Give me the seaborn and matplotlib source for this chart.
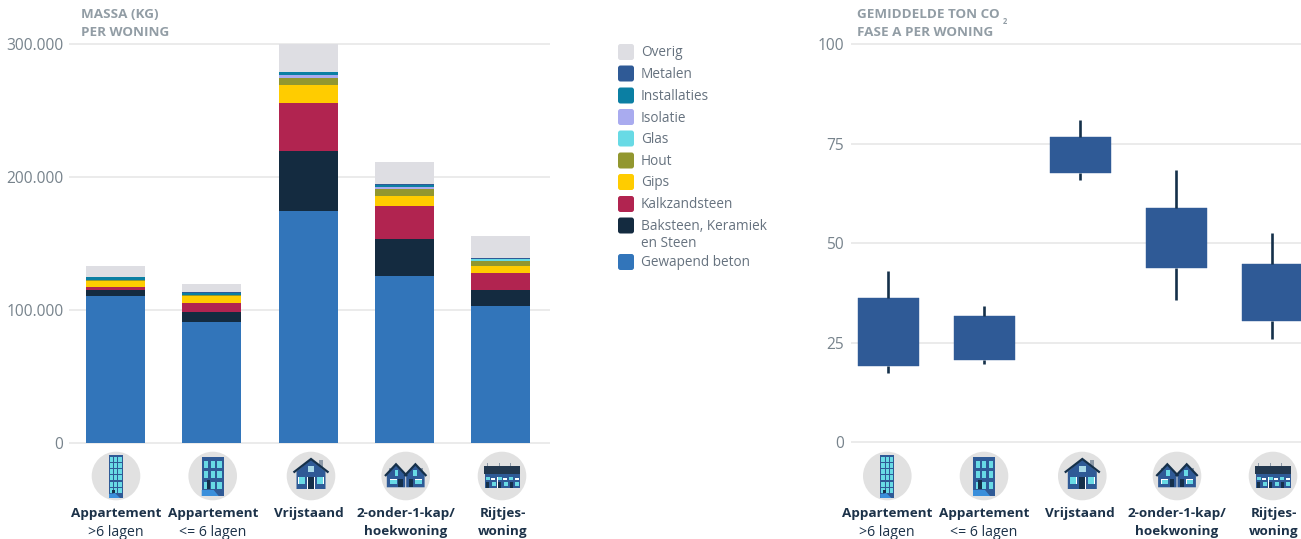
import matplotlib
matplotlib.use("Agg")
import matplotlib.pyplot as plt
import pandas as pd
import seaborn as sns
from matplotlib.patches import Circle, FancyBboxPatch, Polygon, Rectangle

# Waarden
woningen = ["Appartement >6 lagen", "Appartement <= 6 lagen", "Vrijstaand",
            "2-onder-1-kap/hoekwoning", "Rijtjeswoning"]
label_vet = [["Appartement"], ["Appartement"], ["Vrijstaand"],
             ["2-onder-1-kap/", "hoekwoning"], ["Rijtjes-", "woning"]]
label_normaal = [">6 lagen", "<= 6 lagen", "", "", ""]

gewapend_beton = [110300, 90700, 174300, 125400, 102800]
baksteen = [4500, 7500, 45200, 27900, 12000]
kalkzandsteen = [2300, 6800, 36100, 24800, 12800]
gips = [4500, 5300, 13600, 7500, 5300]
hout = [800, 500, 5300, 5300, 3800]
glas = [100, 100, 200, 200, 1100]
isolatie = [200, 200, 2300, 1500, 200]
installaties = [1700, 1700, 1600, 1500, 300]
metalen = [500, 800, 300, 200, 300]
overig = [8300, 6000, 21000, 16700, 16500]

materialen = ["Gewapend beton", "Baksteen, Keramiek\nen Steen", "Kalkzandsteen", "Gips", "Hout",
              "Glas", "Isolatie", "Installaties", "Metalen", "Overig"]
massa_reeksen = [gewapend_beton, baksteen, kalkzandsteen, gips, hout,
                 glas, isolatie, installaties, metalen, overig]
kleuren = ["#3275BA", "#142B40", "#B12450", "#FFCC00", "#92972F",
           "#68DAE5", "#A9ABEF", "#0B7FA3", "#2F5A96", "#DEDEE3"]

co2_whisker_laag = [17.4, 19.7, 65.8, 35.7, 26.0]
co2_box_laag = [19.2, 20.7, 67.6, 43.8, 30.4]
co2_mediaan = [27.0, 26.0, 72.0, 51.0, 37.0]
co2_box_hoog = [36.2, 31.7, 76.6, 58.8, 44.7]
co2_whisker_hoog = [43.0, 34.2, 81.0, 68.3, 52.5]

GRIJS_TICK = "#77838C"
GRIJS_TITEL = "#929DA5"
GRIJS_LEGENDA = "#66727F"
DONKER = "#1C3249"
BLAUW = "#2F5A96"
GRID = "#E6E6E6"
W, H = 1301, 539

sns.set_theme(style="white")
plt.rcParams["font.family"] = ["Open Sans", "DejaVu Sans"]

fig = plt.figure(figsize=(W / 100, H / 100), dpi=100)


def maak_as(links, rechts, boven, onder):
    return fig.add_axes([links / W, (H - onder) / H, (rechts - links) / W, (onder - boven) / H])


# --- massa per woning ---
ax1 = maak_as(69, 550, 42, 444.5)
totaal = [0] * len(woningen)
toppen = []
for reeks in massa_reeksen:
    totaal = [a + b for a, b in zip(totaal, reeks)]
    toppen.append(totaal)
# van boven naar beneden tekenen zodat de stapel ontstaat
for top, kleur in reversed(list(zip(toppen, kleuren))):
    sns.barplot(x=woningen, y=top, color=kleur, saturation=1, width=0.613, order=woningen, ax=ax1,
                linewidth=0, zorder=3)
ax1.set_xlim(-0.483, 4.514)
ax1.set_ylim(-1500, 301500)
ax1.set_yticks([0, 100000, 200000, 300000])
ax1.set_yticklabels(["0", "100.000", "200.000", "300.000"])

# --- CO2 per woning ---
ax2 = maak_as(851, 1301, 42, 444.3)
co2_df = pd.DataFrame({
    "woning": woningen * 5,
    "ton": co2_whisker_laag + co2_box_laag + co2_mediaan + co2_box_hoog + co2_whisker_hoog,
})
sns.boxplot(data=co2_df, x="woning", y="ton", order=woningen, color=BLAUW, saturation=1, width=0.635, gap=0,
            whis=(0, 100), showcaps=False, fliersize=0, linecolor=BLAUW, linewidth=0.3,
            medianprops={"linewidth": 0}, whiskerprops={"color": "#15304A", "linewidth": 1.9}, ax=ax2)
ax2.set_xlim(-0.39, 4.297)
ax2.set_ylim(-0.5, 100.5)
ax2.set_yticks([0, 25, 50, 75, 100])

for ax, pad in ((ax1, 4), (ax2, 5.2)):
    ax.set_xlabel("")
    ax.set_ylabel("")
    ax.set_axisbelow(True)
    ax.yaxis.grid(True, color=GRID, linewidth=1.1)
    ax.xaxis.grid(False)
    ax.tick_params(axis="x", length=0, labelbottom=False)
    ax.tick_params(axis="y", length=0, pad=pad, labelsize=11.2, labelcolor=GRIJS_TICK)
    sns.despine(ax=ax, left=True, bottom=True)

# --- laag in pixels voor teksten, legenda en iconen ---
laag = fig.add_axes([0, 0, 1, 1], zorder=5)
laag.set_xlim(0, W)
laag.set_ylim(H, 0)
laag.axis("off")
laag.patch.set_alpha(0)


def rect(x, y, b, h, kleur):
    laag.add_patch(Rectangle((x, y), b, h, facecolor=kleur, edgecolor="none"))


def poly(punten, kleur):
    laag.add_patch(Polygon(punten, closed=True, facecolor=kleur, edgecolor="none"))


CYAAN = "#68DAE5"
NAVY = "#15304A"
LICHT = "#3A8FDB"
SCHOORSTEEN = "#8E9AA8"


def icoon_toren(cx, cy):
    rect(cx - 7, cy - 21, 14, 43, BLAUW)
    for rij in range(6):
        for kol in range(3):
            rect(cx - 6 + kol * 4.2, cy - 19.5 + rij * 6.3, 3.2, 5, CYAAN)
    rect(cx - 4, cy + 14, 2.5, 6, NAVY)
    poly([(cx - 7, cy + 22), (cx - 7, cy + 18), (cx - 1, cy + 17), (cx + 4, cy + 22)], LICHT)


def icoon_flat(cx, cy):
    rect(cx - 11, cy - 19, 22, 39, BLAUW)
    for rij in range(3):
        for kol in range(3):
            rect(cx - 8.5 + kol * 6.6, cy - 15.5 + rij * 10.5, 4.2, 7, CYAAN)
    rect(cx - 6, cy + 4, 3.6, 9, NAVY)
    poly([(cx - 11, cy + 20), (cx - 11, cy + 14), (cx + 1, cy + 14), (cx + 6, cy + 20)], LICHT)


def huis(cx, top, half, eaves, onder, romp):
    poly([(cx - romp, eaves), (cx, top + 1.5), (cx + romp, eaves),
          (cx + romp, onder), (cx - romp, onder)], BLAUW)
    laag.plot([cx - half, cx, cx + half], [eaves + 1, top + 1, eaves + 1], color=NAVY, lw=1.6,
              solid_capstyle="butt", solid_joinstyle="miter")


def icoon_huis(cx, cy):
    rect(cx + 8, cy - 16, 4, 8, SCHOORSTEEN)
    huis(cx, cy - 18, 17.5, cy - 4.5, cy + 13, 14.5)
    for x in (cx - 12.8, cx + 5.5):
        rect(x, cy + 0.5, 7.2, 7.8, "white")
        rect(x + 0.6, cy + 1.1, 6, 6.6, CYAAN)
    rect(cx - 3.8, cy + 0.5, 7.6, 12.5, "white")
    rect(cx - 3, cy + 1.2, 6, 11.8, NAVY)
    rect(cx - 3.2, cy - 10, 6.4, 6.4, "#A9D9E8")


def icoon_twee(cx, cy):
    rect(cx - 16.5, cy - 8, 2.8, 5, SCHOORSTEEN)
    rect(cx + 14.5, cy - 8, 2.8, 5, SCHOORSTEEN)
    for dx in (-9.7, 9.7):
        huis(cx + dx, cy - 12.7, 11, cy - 1, cy + 11.3, 9.2)
    # ramen en deuren gespiegeld om het midden
    for teken in (-1, 1):
        x_boven, x_breed, x_deur = (cx - 11, cx - 16, cx - 7.3) if teken < 0 else (cx + 7.3, cx + 9, cx + 3)
        rect(x_boven, cy - 6, 3.7, 6, CYAAN)
        rect(x_breed, cy + 3.3, 7.3, 5, "white")
        rect(x_breed + 0.5, cy + 3.8, 6.3, 4, CYAAN)
        rect(x_deur, cy + 3, 4.4, 8.3, NAVY)


def icoon_rij(cx, cy):
    for dx in (-15, -3, 8):
        rect(cx + dx - 0.5, cy - 13.5, 1, 4, SCHOORSTEEN)
    rect(cx - 17.7, cy - 10.3, 35.4, 8.6, "#23384F")
    rect(cx - 17.5, cy - 1.7, 35, 14, BLAUW)
    for dx in (0, 11.7, 23.4):
        rect(cx - 16 + dx, cy + 1, 4, 3, CYAAN)
        rect(cx - 10.7 + dx, cy + 1.5, 4, 2, "white")
        rect(cx - 15.7 + dx, cy + 5.7, 3, 6.6, NAVY)
        rect(cx - 10 + dx, cy + 6.3, 4, 3.4, CYAAN)
    for dx in (-5, 6.7):
        rect(cx + dx, cy + 1, 0.7, 11.3, "white")


iconen = [icoon_toren, icoon_flat, icoon_huis, icoon_twee, icoon_rij]
icoon_x_links = [116, 212.7, 311, 405.7, 502]
icoon_x_rechts = [887.3, 984, 1082.3, 1177, 1273]
label_x_links = [116, 212.7, 309.3, 405.7, 502.7]
label_x_rechts = [887, 984, 1080, 1176.7, 1274]

for icoon_x, label_x in ((icoon_x_links, label_x_links), (icoon_x_rechts, label_x_rechts)):
    for i, icoon in enumerate(iconen):
        laag.add_patch(Circle((icoon_x[i], 476), 24.3, facecolor="#E1E1E1", edgecolor="none"))
        icoon(icoon_x[i], 476)
        y = 514
        for regel in label_vet[i]:
            laag.text(label_x[i], y, regel, ha="center", va="center", fontsize=9.7, fontweight="bold", color=DONKER)
            y += 18
        if label_normaal[i]:
            laag.text(label_x[i], y + 0.5, label_normaal[i], ha="center", va="center", fontsize=10.2, color=DONKER)

# titels
laag.text(81, 15, "MASSA (KG)", fontsize=9.7, fontweight="bold", color=GRIJS_TITEL, va="center")
laag.text(81, 32, "PER WONING", fontsize=9.7, fontweight="bold", color=GRIJS_TITEL, va="center")
laag.text(857, 15, "GEMIDDELDE TON CO", fontsize=9.7, fontweight="bold", color=GRIJS_TITEL, va="center")
laag.text(1003, 21.5, "2", fontsize=5.5, fontweight="bold", color=GRIJS_TITEL, va="center")
laag.text(857, 32, "FASE A PER WONING", fontsize=9.7, fontweight="bold", color=GRIJS_TITEL, va="center")

# legenda
legenda_y = [52, 73.5, 95.5, 117, 138.5, 160.5, 182, 204, 225.5, 262]
volgorde = list(range(len(materialen)))[::-1]
for idx, y in zip(volgorde, legenda_y):
    laag.add_patch(FancyBboxPatch((619.5, y - 6.5), 13, 13, boxstyle="round,pad=1.5,rounding_size=2.5",
                                  facecolor=kleuren[idx], edgecolor="none"))
    naam = materialen[idx].split("\n")
    for n, regel in enumerate(naam):
        laag.text(641, y + 1 + n * 17, regel, fontsize=9.8, color=GRIJS_LEGENDA, va="center")

fig.savefig("out.png", dpi=100)
